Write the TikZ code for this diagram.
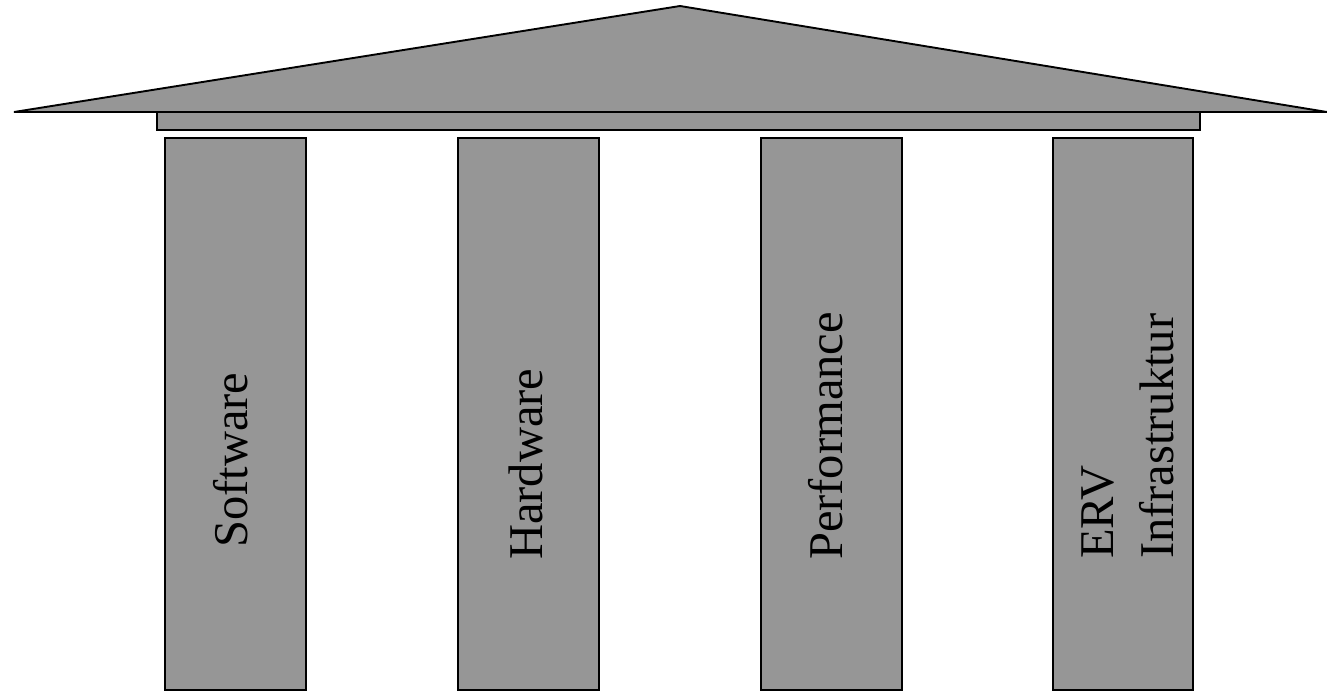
\documentclass[tikz,border=0pt]{standalone}
\usepackage{fontspec}
\setmainfont{Liberation Serif}
\definecolor{pillargray}{RGB}{150,150,150}
\begin{document}
\begin{tikzpicture}[x=1pt,y=-1pt,
  part/.style={draw=black,fill=pillargray,line width=1.9pt,line join=miter},
  lbl/.style={rotate=90,anchor=base west,inner sep=0pt,font=\fontsize{48.5}{58}\selectfont}]
\useasboundingbox (0,0) rectangle (1327,691);
\filldraw[part] (14,112) -- (680,6) -- (1327,112) -- cycle;
\filldraw[part] (157,112) rectangle (1200,130);
\filldraw[part] (165,138) rectangle (306,690);
\filldraw[part] (458,138) rectangle (599,690);
\filldraw[part] (761,138) rectangle (902,690);
\filldraw[part] (1053,138) rectangle (1193,690);
\node[lbl] (t1) at (247,548) {Software};
\node[lbl] (t2) at (542,560) {Hardware};
\node[lbl] (t3) at (842,560) {Performance};
\node[lbl] (t4a) at (1113,559) {ERV};
\node[lbl] (t4b) at (1173,559) {Infrastruktur};
\end{tikzpicture}
\end{document}
